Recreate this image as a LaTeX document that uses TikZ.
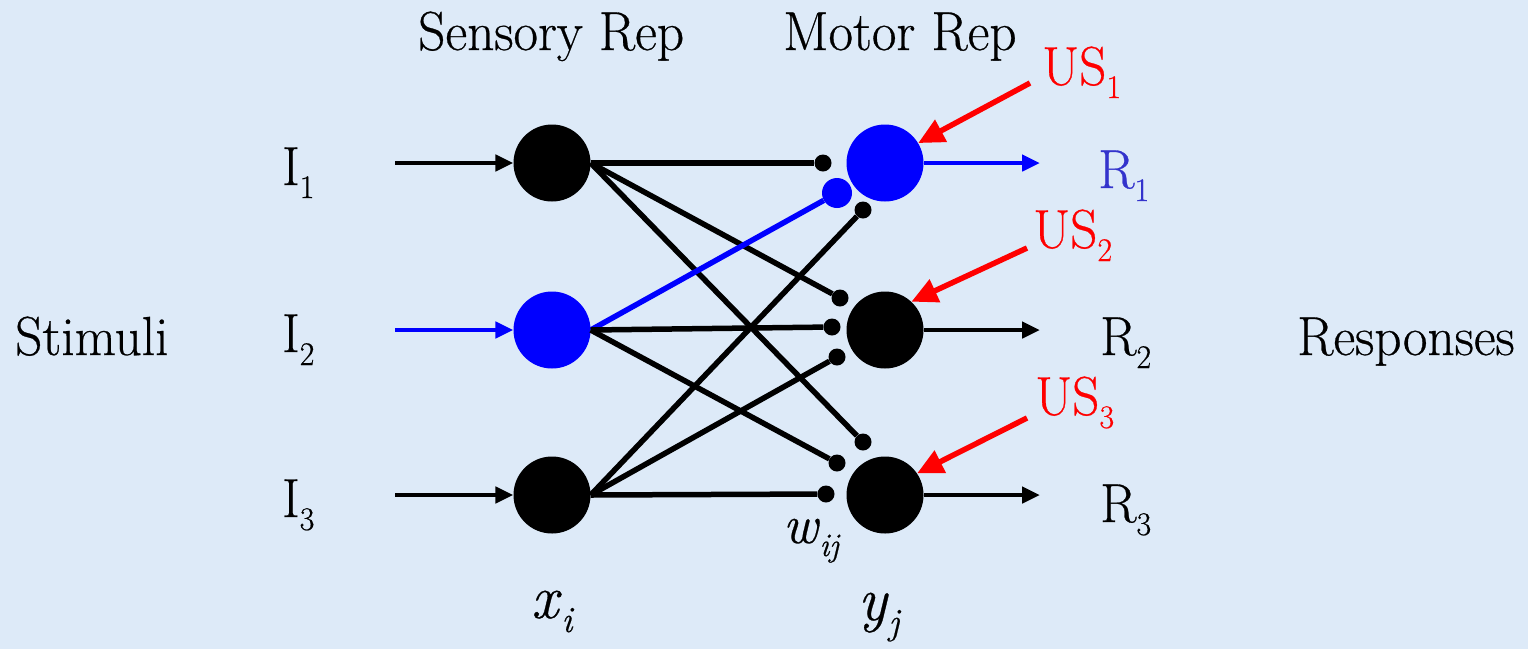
\documentclass[tikz,border=0pt]{standalone}
\usepackage{graphicx}
\usepackage{fontspec}
\setmainfont{Latin Modern Roman}[UprightFeatures={FakeBold=0.5}, ItalicFeatures={FakeBold=0.5}]
\usetikzlibrary{arrows.meta}
\definecolor{bg}{RGB}{221,234,248}
\definecolor{rblue}{RGB}{51,51,204}
\newcommand{\txt}[1]{\scalebox{0.97}[1]{#1}}
\newcommand{\sbs}[1]{\raisebox{-13pt}{\fontsize{33}{33}\selectfont #1}}
\newcommand{\bsbs}[1]{\raisebox{-14pt}{\fontsize{37}{37}\selectfont #1}}
\begin{document}
\begin{tikzpicture}[x=1pt,y=-1pt,
  lbl/.style={anchor=base west, inner sep=0pt, font=\fontsize{55}{60}\selectfont},
  biglbl/.style={anchor=base west, inner sep=0pt, font=\fontsize{62}{66}\selectfont},
  neuron/.style={circle, fill=black, minimum size=77pt, inner sep=0pt},
  syn/.style={circle, fill=black, minimum size=17pt, inner sep=0pt},
  conn/.style={line width=5.5pt},
  arr/.style={line width=4.5pt, -{Triangle[length=18pt,width=16pt]}},
  redarr/.style={red, line width=5.5pt, -{Triangle[length=26pt,width=24pt]}}]
\fill[bg] (0,0) rectangle (1528,649);
\useasboundingbox (0,0) rectangle (1528,649);

% labels
\node[lbl] (hsens) at (418,50) {\txt{Sensory Rep}};
\node[lbl] (hmot) at (783,50) {\txt{Motor Rep}};
\node[lbl] (stim) at (15,355) {\txt{Stimuli}};
\node[lbl] (resp) at (1297,355) {\txt{Responses}};
\node[lbl] (li1) at (282,185) {\txt{I\sbs{1}}};
\node[lbl] (li2) at (282,352) {\txt{I\sbs{2}}};
\node[lbl] (li3) at (282,517) {\txt{I\sbs{3}}};
\node[lbl, text=rblue] (lr1) at (1098,188) {\txt{R\sbs{1}}};
\node[lbl] (lr2) at (1100,355) {\txt{R\sbs{2}}};
\node[lbl] (lr3) at (1100,522) {\txt{R\sbs{3}}};
\node[lbl, text=red] (lus1) at (1042,85) {\txt{US\sbs{1}}};
\node[lbl, text=red] (lus2) at (1033,248) {\txt{US\sbs{2}}};
\node[lbl, text=red] (lus3) at (1035,415) {\txt{US\sbs{3}}};
\node[lbl] (lw) at (783,543) {\txt{\textit{w}\sbs{\textit{ij}}}};
\node[biglbl] (lx) at (531,618) {\txt{\textit{x}\bsbs{\textit{i}}}};
\node[biglbl] (ly) at (858,620) {\txt{\textit{y}\bsbs{\textit{j}}}};

% neurons
\node[neuron] (s1) at (552,163) {};
\node[neuron, fill=blue] (s2) at (552,330) {};
\node[neuron] (s3) at (552,495) {};
\node[neuron, fill=blue] (m1) at (885,163) {};
\node[neuron] (m2) at (885,330) {};
\node[neuron] (m3) at (885,495) {};

% synapses
\node[syn] (d1a) at (823,163) {};
\node[syn, fill=blue, minimum size=30pt] (d1b) at (837,193) {};
\node[syn] (d1c) at (863,210) {};
\node[syn] (d2a) at (840,298) {};
\node[syn] (d2b) at (832,327) {};
\node[syn] (d2c) at (837,357) {};
\node[syn] (d3a) at (863,442) {};
\node[syn] (d3b) at (837,463) {};
\node[syn] (d3c) at (826,494) {};

% connections
\draw[conn] (s1.east) -- (d1a);
\draw[conn] (s1.east) -- (d2a);
\draw[conn] (s1.east) -- (d3a);
\draw[conn, blue] (s2.east) -- (d1b);
\draw[conn] (s2.east) -- (d2b);
\draw[conn] (s2.east) -- (d3b);
\draw[conn] (s3.east) -- (d1c);
\draw[conn] (s3.east) -- (d2c);
\draw[conn] (s3.east) -- (d3c);

% input arrows
\coordinate (in1) at (395,163);
\coordinate (in2) at (395,330);
\coordinate (in3) at (395,495);
\draw[arr] (in1) -- (s1);
\draw[arr, blue] (in2) -- (s2);
\draw[arr] (in3) -- (s3);

% output arrows
\coordinate (out1) at (1040,163);
\coordinate (out2) at (1040,330);
\coordinate (out3) at (1040,495);
\draw[arr, blue] (m1) -- (out1);
\draw[arr] (m2) -- (out2);
\draw[arr] (m3) -- (out3);

% US arrows
\coordinate (u1) at (1030,83);
\coordinate (u2) at (1027,248);
\coordinate (u3) at (1027,418);
\draw[redarr] (u1) -- (m1.31);
\draw[redarr] (u2) -- (m2.47);
\draw[redarr] (u3) -- (m3.34);
\end{tikzpicture}
\end{document}
